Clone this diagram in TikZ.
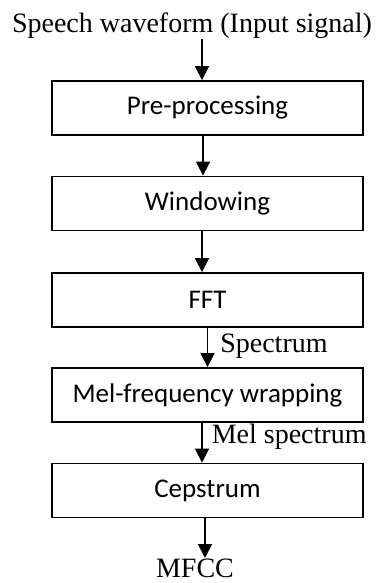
\documentclass[tikz,border=0pt]{standalone}
\usepackage{fontspec}
\setmainfont{Liberation Serif}
\newfontfamily\boxfont{Carlito}
\usetikzlibrary{arrows.meta,calc}
\begin{document}
\begin{tikzpicture}[x=1pt,y=-1pt,
  stage/.style={draw,line width=1.8pt,minimum width=311pt,minimum height=54pt,inner sep=0pt,
    font=\boxfont\fontsize{27}{30}\selectfont},
  lbl/.style={inner sep=0pt,font=\fontsize{28}{32}\selectfont},
  arr/.style={line width=1.6pt,-{Triangle[width=14pt,length=14pt]}}]
\useasboundingbox (0,0) rectangle (377,583);
\node[lbl,anchor=base] (title) at (192,33) {Speech waveform (Input signal)};
\node[stage] (p1) at (207.5,108) {Pre-processing};
\node[stage] (p2) at (207.5,203.5) {Windowing};
\node[stage] (p3) at (207.5,300) {FFT};
\node[stage] (p4) at (207.5,395) {Mel-frequency wrapping};
\node[stage] (p5) at (207.5,490.5) {Cepstrum};
\node[lbl,anchor=base] (mfcc) at (195,577.5) {MFCC};
\coordinate (a1) at ([xshift=-5.5pt]p1.north);
\draw[arr] (a1 |- 0,39) -- (a1);
\draw[arr] ([xshift=-4.5pt]p1.south) -- ([xshift=-4.5pt]p2.north);
\draw[arr] ([xshift=-5.5pt]p2.south) -- ([xshift=-5.5pt]p3.north);
\draw[arr] (p3.south) -- (p4.north) node[midway,lbl,anchor=base west,xshift=12pt,yshift=-4.5pt] {Spectrum};
\draw[arr] ([xshift=-5.5pt]p4.south) -- ([xshift=-5.5pt]p5.north) node[midway,lbl,anchor=base west,xshift=9pt,yshift=-0.5pt] {Mel spectrum};
\coordinate (a6) at ([xshift=-2.5pt]p5.south);
\draw[arr] (a6) -- (a6 |- 0,558);
\end{tikzpicture}
\end{document}
